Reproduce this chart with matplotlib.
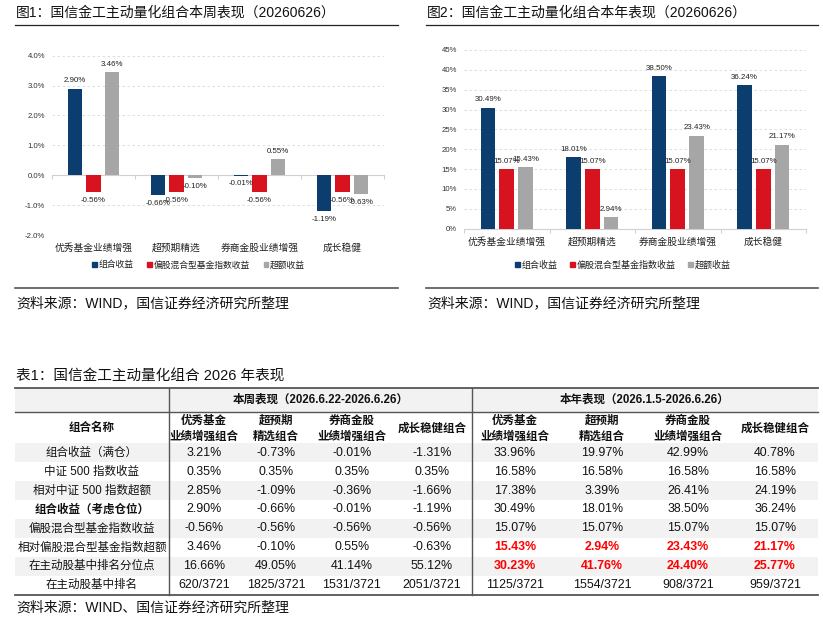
#----------------------------------------------------------------------
# Weekly / YTD performance of active quant portfolios: two bar charts
# plus the summary table underneath
#----------------------------------------------------------------------

import matplotlib

matplotlib.use('Agg')

import matplotlib.pyplot as plt
from matplotlib.patches import Rectangle, Patch
import numpy as np

plt.rcParams['font.family'] = ['Liberation Sans', 'Noto Sans CJK SC']

W, H = 823, 625

categories = ['优秀基金业绩增强', '超预期精选', '券商金股业绩增强', '成长稳健']
series_names = ['组合收益', '偏股混合型基金指数收益', '超额收益']
colors = ['#0b3d6f', '#d7131f', '#a6a6a6']

week_port = [2.90, -0.66, -0.01, -1.19]
week_index = [-0.56, -0.56, -0.56, -0.56]
week_excess = [3.46, -0.10, 0.55, -0.63]
week_yticks = [-2, -1, 0, 1, 2, 3, 4]

year_port = [30.49, 18.01, 38.50, 36.24]
year_index = [15.07, 15.07, 15.07, 15.07]
year_excess = [15.43, 2.94, 23.43, 21.17]
year_yticks = [0, 5, 10, 15, 20, 25, 30, 35, 40, 45]

row_labels = ['组合收益（满仓）', '中证 500 指数收益', '相对中证 500 指数超额',
              '组合收益（考虑仓位）', '偏股混合型基金指数收益',
              '相对偏股混合型基金指数超额', '在主动股基中排名分位点', '在主动股基中排名']
col_headers = ['优秀基金\n业绩增强组合', '超预期\n精选组合', '券商金股\n业绩增强组合', '成长稳健组合']
week_table = [
    ['3.21%', '-0.73%', '-0.01%', '-1.31%'],
    ['0.35%', '0.35%', '0.35%', '0.35%'],
    ['2.85%', '-1.09%', '-0.36%', '-1.66%'],
    ['2.90%', '-0.66%', '-0.01%', '-1.19%'],
    ['-0.56%', '-0.56%', '-0.56%', '-0.56%'],
    ['3.46%', '-0.10%', '0.55%', '-0.63%'],
    ['16.66%', '49.05%', '41.14%', '55.12%'],
    ['620/3721', '1825/3721', '1531/3721', '2051/3721'],
]
year_table = [
    ['33.96%', '19.97%', '42.99%', '40.78%'],
    ['16.58%', '16.58%', '16.58%', '16.58%'],
    ['17.38%', '3.39%', '26.41%', '24.19%'],
    ['30.49%', '18.01%', '38.50%', '36.24%'],
    ['15.07%', '15.07%', '15.07%', '15.07%'],
    ['15.43%', '2.94%', '23.43%', '21.17%'],
    ['30.23%', '41.76%', '24.40%', '25.77%'],
    ['1125/3721', '1554/3721', '908/3721', '959/3721'],
]
bold_rows = [3]
red_rows = [5, 6]


def px_box(x0, y0, x1, y1):
    """pixel box (top-left origin) -> figure fraction rect"""
    return [x0 / W, 1 - y1 / H, (x1 - x0) / W, (y1 - y0) / H]


def bar_panel(fig, box, series, ylim, yticks, tickfmt, lab_y, leg_xy, leg_fs, colsp):
    ax = fig.add_axes(box)
    x = np.arange(len(categories))
    for k, vals in enumerate(series):
        bars = ax.bar(x + (k - 1) * 0.222, vals, width=0.17, color=colors[k], zorder=3)
        for b, v in zip(bars, vals):
            ax.annotate('{:.2f}%'.format(v), (b.get_x() + b.get_width() / 2, v),
                        xytext=(0, 3 if v >= 0 else -3.5), textcoords='offset points',
                        ha='center', va='bottom' if v >= 0 else 'top',
                        fontsize=5.7, color='#222222', zorder=4)
    ax.set_xlim(-0.5, len(categories) - 0.5)
    ax.set_ylim(*ylim)
    ax.set_yticks(yticks)
    ax.set_yticklabels([tickfmt.format(t) for t in yticks])
    ax.tick_params(axis='y', length=0, pad=5, labelsize=5.6, labelcolor='#333333')
    ax.yaxis.grid(True, ls=(0, (3, 3)), color='#d9d9d9', lw=0.6, zorder=0)
    for s in ['left', 'right', 'top']:
        ax.spines[s].set_visible(False)
    ax.spines['bottom'].set_position(('data', 0))
    ax.spines['bottom'].set_color('#d0d0d0')
    ax.spines['bottom'].set_zorder(2)
    ax.set_xticks([])
    ax.set_xticks(np.arange(-0.5, len(categories)), minor=True)
    ax.tick_params(axis='x', which='minor', length=3, color='#d0d0d0', width=0.8)
    for xi, c in zip(x, categories):
        ax.text(xi, lab_y, c, transform=ax.get_xaxis_transform(), ha='center', va='center',
                fontsize=7, color='#222222')
    handles = [Patch(color=colors[k], label=series_names[k]) for k in range(3)]
    fig.legend(handles=handles, loc='center', bbox_to_anchor=leg_xy, ncol=3, frameon=False,
               fontsize=leg_fs, handlelength=0.55, handleheight=0.55, handletextpad=0.2,
               columnspacing=colsp, labelcolor='#222222')
    return ax


def plot_all():
    fig = plt.figure(figsize=(W / 100, H / 100), dpi=100)

    # overlay in pixel coordinates for titles, rules and the table
    bg = fig.add_axes([0, 0, 1, 1])
    bg.set_xlim(0, W)
    bg.set_ylim(H, 0)
    bg.axis('off')

    # --- chart 1
    bar_panel(fig, px_box(52, 55.7, 384, 235), [week_port, week_index, week_excess],
              (-2, 4), week_yticks, '{:.1f}%', -0.071, (198.5 / W, 1 - 265 / H), 6.35, 1.55)
    # --- chart 2
    bar_panel(fig, px_box(464, 50, 806, 228.7), [year_port, year_index, year_excess],
              (0, 45), year_yticks, '{:.0f}%', -0.073, (622.5 / W, 1 - 265 / H), 6.5, 1.35)

    for x0, x1, title in [(15, 398, '图1：国信金工主动量化组合本周表现（20260626）'),
                          (426, 818, '图2：国信金工主动量化组合本年表现（20260626）')]:
        bg.text(x0 + 1, 13, title, fontsize=10, va='center', ha='left', color='#111111')
        bg.plot([x0, x1], [25, 25], color='#222222', lw=0.9)
        bg.plot([x0, x1], [288, 288], color='#555555', lw=1.2)
        bg.text(x0 + 1, 303, '资料来源：WIND，国信证券经济研究所整理', fontsize=10,
                va='center', ha='left', color='#111111')

    # --- table
    bg.text(16, 376, '表1：国信金工主动量化组合 2026 年表现', fontsize=10.5,
            va='center', ha='left', color='#111111')
    left, right = 15, 818
    top, h1, h2 = 388, 412, 443.3
    rh = 18.9
    col_x = [204, 276, 352, 432, 515, 602, 688, 775]
    bg.add_patch(Rectangle((left, top), right - left, h1 - top, color='#f2f2f2', lw=0))
    for i in range(len(row_labels)):
        if i % 2 == 0:
            bg.add_patch(Rectangle((left, h2 + i * rh), right - left, rh, color='#f2f2f2', lw=0))
    bottom = h2 + len(row_labels) * rh
    bg.plot([left, right], [top, top], color='#555555', lw=1.3)
    bg.plot([left, right], [h1, h1], color='#555555', lw=1.0)
    bg.plot([left, right], [bottom, bottom], color='#555555', lw=1.3)
    for xv in [169, 472]:
        bg.plot([xv, xv], [top, bottom], color='#555555', lw=1.0)

    bg.text((169 + 472) / 2, (top + h1) / 2, '本周表现（2026.6.22-2026.6.26）',
            fontsize=8.3, fontweight='bold', ha='center', va='center', color='#111111')
    bg.text((472 + right) / 2, (top + h1) / 2, '本年表现（2026.1.5-2026.6.26）',
            fontsize=8.3, fontweight='bold', ha='center', va='center', color='#111111')
    bg.text(92, (h1 + h2) / 2, '组合名称', fontsize=8.3, fontweight='bold',
            ha='center', va='center', color='#111111')
    for j, hdr in enumerate(col_headers + col_headers):
        bg.text(col_x[j], (h1 + h2) / 2 + 1, hdr, fontsize=8.3, fontweight='bold',
                ha='center', va='center', linespacing=1.4, color='#111111')

    for i, lab in enumerate(row_labels):
        yc = h2 + (i + 0.5) * rh
        bg.text(92, yc, lab, fontsize=8.3, ha='center', va='center', color='#111111',
                fontweight='bold' if i in bold_rows else 'normal')
        vals = week_table[i] + year_table[i]
        for j, v in enumerate(vals):
            red = (j >= 4) and (i in red_rows)
            bg.text(col_x[j], yc, v, fontsize=8.9, ha='center', va='center',
                    color='#ff0000' if red else '#111111',
                    fontweight='bold' if red else 'normal')

    bg.text(16, 608, '资料来源：WIND、国信证券经济研究所整理', fontsize=10,
            va='center', ha='left', color='#111111')

    fig.savefig('out.png', dpi=100)


if __name__ == "__main__":
    plot_all()
